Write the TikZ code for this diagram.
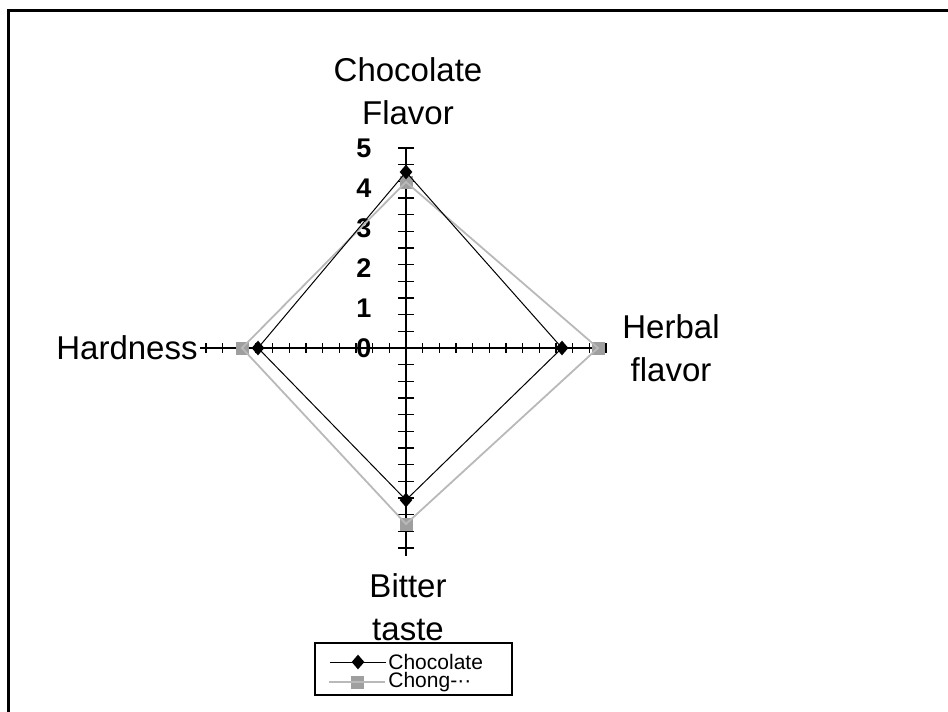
\documentclass[tikz,border=0pt]{standalone}
\usepackage{fontspec}
\setmainfont{Liberation Sans}
\usetikzlibrary{shapes.geometric}
\begin{document}
\begin{tikzpicture}[
  x=0.5pt, y=-0.5pt,
  axis/.style={line width=1pt},
  tick/.style={line width=0.8pt},
  series a/.style={black, line width=0.5pt},
  series b/.style={gray!55, line width=0.9pt},
  mark a/.style={diamond, fill=black, inner sep=0pt, minimum width=6.5pt, minimum height=7.5pt},
  mark b/.style={rectangle, fill=gray!75, inner sep=0pt, minimum size=6.5pt},
  axis label/.style={font=\fontsize{16.5}{21.5}\selectfont, align=center, inner sep=0pt},
  num/.style={font=\fontsize{13.5}{15}\selectfont\bfseries, inner sep=0pt},
  legend text/.style={font=\fontsize{10.5}{12}\selectfont, anchor=west, inner sep=1pt}
]
  \useasboundingbox (0,0) rectangle (948,712);
  \draw[line width=1.5pt] (8,712) |- (948,10);

  % chart, one unit = one point of the score
  \begin{scope}[shift={(406,348)}, x=20pt, y=20pt]
    \coordinate (O) at (0,0);
    \coordinate (top) at (0,5);
    \coordinate (right) at (5,0);
    \coordinate (bottom) at (0,-5.2);
    \coordinate (left) at (-5.15,0);
    \draw[axis] (O) -- (top);
    \draw[axis] (O) -- (right);
    \draw[axis] (O) -- (bottom);
    \draw[axis] (O) -- (left);
    \foreach \i in {1,...,12} {
      \draw[tick] (0,\i*5/12) ++(-0.2,0) -- ++(0.4,0);
      \draw[tick] (0,-\i*5/12) ++(-0.2,0) -- ++(0.4,0);
      \draw[tick] (\i*5/12,0) ++(0,-0.13) -- ++(0,0.26);
      \draw[tick] (-\i*5/12,0) ++(0,-0.13) -- ++(0,0.26);
    }
    \foreach \v in {0,...,5}
      \node[num] (n\v) at (-1.05,\v) {\v};

    % Chong
    \node[mark b] (g1) at (0,4.15) {};
    \node[mark b] (g2) at (4.8,0) {};
    \node[mark b] (g3) at (0,-4.4) {};
    \node[mark b] (g4) at (-4.1,0) {};
    \draw[series b] (g1.center) -- (g2.center) -- (g3.center) -- (g4.center) -- cycle;

    % Chocolate
    \node[mark a] (c1) at (0,4.4) {};
    \node[mark a] (c2) at (3.9,0) {};
    \node[mark a] (c3) at (0,-3.8) {};
    \node[mark a] (c4) at (-3.7,0) {};
    \draw[series a] (c1.center) -- (c2.center) -- (c3.center) -- (c4.center) -- cycle;
  \end{scope}

  \node[axis label] (flavour) at (408,91) {Chocolate\\Flavor};
  \node[axis label] (herbal) at (671,348) {Herbal\\flavor};
  \node[axis label] (bitter) at (408,607) {Bitter\\taste};
  \node[axis label, anchor=east] (hard) at (198,348) {Hardness};

  % legend
  \node[draw, line width=0.8pt, minimum width=98.5pt, minimum height=26pt, inner sep=0pt] (legend) at (413.5,669) {};
  \node[mark a] (la) at (358,662) {};
  \draw[series a] ([xshift=-14pt]la.center) -- ([xshift=14pt]la.center);
  \node[legend text] at (386,662) {Chocolate};
  \node[mark b] (lb) at (357,682) {};
  \draw[series b] ([xshift=-14pt]lb.center) -- ([xshift=14pt]lb.center);
  \node[legend text] at (386,682) {Chong-\textperiodcentered\textperiodcentered};
\end{tikzpicture}
\end{document}
